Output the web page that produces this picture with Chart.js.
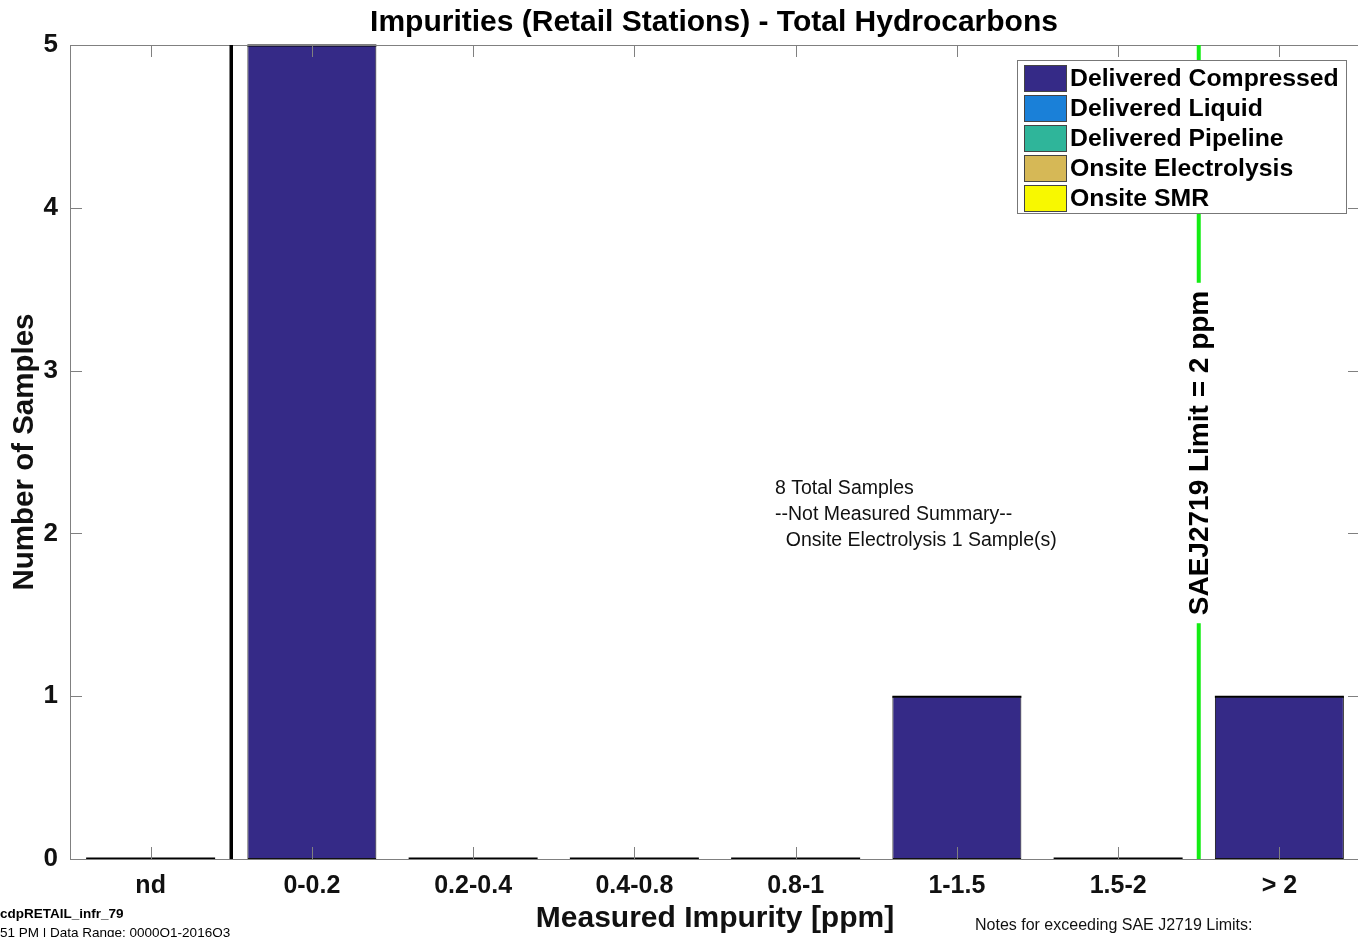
<!DOCTYPE html>
<html>
<head>
<meta charset="utf-8">
<script src="https://cdn.jsdelivr.net/npm/chart.js@4.4.1/dist/chart.umd.min.js"></script>
<style>
  html, body { margin: 0; padding: 0; background: #fff; overflow: hidden; width: 1358px; height: 937px; }
  canvas { display: block; }
</style>
</head>
<body>
<canvas id="c" width="1362" height="937"></canvas>
<script>
// ---- data ----
const categories = ['nd', '0-0.2', '0.2-0.4', '0.4-0.8', '0.8-1', '1-1.5', '1.5-2', '> 2'];
const deliveredCompressed = [0, 5, 0, 0, 0, 1, 0, 1];
const deliveredLiquid     = [0, 0, 0, 0, 0, 0, 0, 0];
const deliveredPipeline   = [0, 0, 0, 0, 0, 0, 0, 0];
const onsiteElectrolysis  = [0, 0, 0, 0, 0, 0, 0, 0];
const onsiteSMR           = [0, 0, 0, 0, 0, 0, 0, 0];
const seriesNames = ['Delivered Compressed', 'Delivered Liquid', 'Delivered Pipeline', 'Onsite Electrolysis', 'Onsite SMR'];
const seriesColors = ['#352a87', '#1a80d8', '#2fb59a', '#d6b856', '#f8f800'];
const yTicks = [0, 1, 2, 3, 4, 5];
const ndBoundary = 0.5;      // black line between "nd" and "0-0.2" (category index)
const limitPosition = 6.5;   // SAE J2719 limit = 2 ppm (between "1.5-2" and "> 2")
const limitLabel = 'SAEJ2719 Limit = 2 ppm';
const summaryLines = ['8 Total Samples', '--Not Measured Summary--', '  Onsite Electrolysis 1 Sample(s)'];
const titleText = 'Impurities (Retail Stations) - Total Hydrocarbons';
const footerLeft1 = 'cdpRETAIL_infr_79';
const footerLeft2 = '51 PM | Data Range: 0000Q1-2016Q3';
const footerRight = 'Notes for exceeding SAE J2719 Limits:';

const FONT = '"Liberation Sans", Arial, Helvetica, sans-serif';
const seriesData = [deliveredCompressed, deliveredLiquid, deliveredPipeline, onsiteElectrolysis, onsiteSMR];

const decorPlugin = {
  id: 'decor',
  afterDatasetsDraw(chart) {
    const ctx = chart.ctx;
    const ca = chart.chartArea;
    const xs = chart.scales.x, ys = chart.scales.y;
    ctx.save();
    // zero-height bars drawn as black lines at the base
    const meta0 = chart.getDatasetMeta(0);
    meta0.data.forEach((bar, i) => {
      const total = seriesData.reduce((s, arr) => s + arr[i], 0);
      if (total === 0) {
        ctx.strokeStyle = '#000';
        ctx.lineWidth = 2;
        ctx.beginPath();
        ctx.moveTo(bar.x - bar.width / 2, ys.getPixelForValue(0) - 0.5);
        ctx.lineTo(bar.x + bar.width / 2, ys.getPixelForValue(0) - 0.5);
        ctx.stroke();
      } else {
        // dark top edge as in the reference
        ctx.strokeStyle = '#000';
        ctx.lineWidth = 2;
        ctx.beginPath();
        ctx.moveTo(bar.x - bar.width / 2, ys.getPixelForValue(total) + 0.5);
        ctx.lineTo(bar.x + bar.width / 2, ys.getPixelForValue(total) + 0.5);
        ctx.stroke();
      }
    });
    // axes box
    ctx.strokeStyle = '#808080';
    ctx.lineWidth = 1;
    ctx.strokeRect(Math.round(ca.left) + 0.5, Math.round(ca.top) + 0.5, ca.right - ca.left, ca.bottom - ca.top);
    // inward ticks
    ctx.beginPath();
    yTicks.forEach(v => {
      const y = Math.round(ys.getPixelForValue(v)) + 0.5;
      ctx.moveTo(ca.left, y); ctx.lineTo(ca.left + 12, y);
      ctx.moveTo(ca.right, y); ctx.lineTo(ca.right - 12, y);
    });
    categories.forEach((c, i) => {
      const x = Math.round(xs.getPixelForValue(i)) + 0.5;
      ctx.moveTo(x, ca.bottom); ctx.lineTo(x, ca.bottom - 12);
      ctx.moveTo(x, ca.top); ctx.lineTo(x, ca.top + 12);
    });
    ctx.stroke();
    // nd boundary black line
    const xb = xs.getPixelForValue(ndBoundary);
    ctx.strokeStyle = '#000';
    ctx.lineWidth = 3.5;
    ctx.beginPath(); ctx.moveTo(xb, ca.top); ctx.lineTo(xb, ca.bottom); ctx.stroke();
    // limit green line
    const xl = xs.getPixelForValue(limitPosition);
    ctx.strokeStyle = '#14ec14';
    ctx.lineWidth = 4;
    ctx.beginPath(); ctx.moveTo(xl, ca.top); ctx.lineTo(xl, ca.bottom); ctx.stroke();
    // limit label
    ctx.save();
    ctx.translate(xl, 453);
    ctx.rotate(-Math.PI / 2);
    ctx.font = 'bold 28px ' + FONT;
    const lw = ctx.measureText(limitLabel).width;
    ctx.fillStyle = '#fff';
    ctx.fillRect(-lw / 2 - 8, -15, lw + 16, 30);
    ctx.fillStyle = '#000';
    ctx.textAlign = 'center';
    ctx.textBaseline = 'middle';
    ctx.fillText(limitLabel, 0, 2);
    ctx.restore();
    // summary text
    ctx.font = '19.5px ' + FONT;
    ctx.fillStyle = '#111';
    ctx.textAlign = 'left';
    ctx.textBaseline = 'middle';
    summaryLines.forEach((t, i) => ctx.fillText(t, 775, 489 + i * 26));
    // legend
    const lx = 1017, ly = 60, lwid = 329, lh = 153;
    ctx.fillStyle = '#fff';
    ctx.fillRect(lx, ly, lwid, lh);
    ctx.strokeStyle = '#777';
    ctx.lineWidth = 1;
    ctx.strokeRect(lx + 0.5, ly + 0.5, lwid, lh);
    ctx.font = 'bold 24.8px ' + FONT;
    chart.data.datasets.forEach((ds, i) => {
      const cy = 78 + i * 30;
      ctx.fillStyle = ds.backgroundColor;
      ctx.fillRect(1024, cy - 13, 42, 26);
      ctx.strokeStyle = '#444';
      ctx.strokeRect(1024.5, cy - 12.5, 42, 26);
      ctx.fillStyle = '#000';
      ctx.textAlign = 'left';
      ctx.textBaseline = 'middle';
      ctx.fillText(ds.label, 1070, cy + 1);
    });
    ctx.restore();
  },
  afterDraw(chart) {
    const ctx = chart.ctx;
    ctx.save();
    ctx.fillStyle = '#000';
    ctx.textBaseline = 'middle';
    ctx.textAlign = 'center';
    ctx.font = 'bold 30px ' + FONT;
    ctx.fillText(titleText, 714, 23);
    ctx.textAlign = 'left';
    ctx.font = 'bold 13.5px ' + FONT;
    ctx.fillText(footerLeft1, 0, 914);
    ctx.font = '13.5px ' + FONT;
    ctx.fillText(footerLeft2, 0, 933);
    ctx.font = '16px ' + FONT;
    ctx.fillStyle = '#111';
    ctx.fillText(footerRight, 975, 926);
    ctx.restore();
  }
};

new Chart(document.getElementById('c'), {
  type: 'bar',
  data: {
    labels: categories,
    datasets: seriesNames.map((name, i) => ({
      label: name,
      data: seriesData[i],
      backgroundColor: seriesColors[i],
      borderColor: '#111',
      borderWidth: 1,
      borderSkipped: false,
      categoryPercentage: 1.0,
      barPercentage: 0.8
    }))
  },
  options: {
    responsive: false,
    animation: false,
    devicePixelRatio: 1,
    layout: { padding: { top: 45, right: 2, left: 0, bottom: 0 } },
    plugins: { legend: { display: false }, title: { display: false }, tooltip: { enabled: false } },
    scales: {
      x: {
        stacked: true,
        grid: { display: false, drawTicks: false },
        border: { display: false },
        ticks: { color: '#111', font: { family: FONT, size: 25, weight: 'bold' }, padding: 12, maxRotation: 0, autoSkip: false },
        title: { display: true, text: 'Measured Impurity [ppm]', color: '#111', font: { family: FONT, size: 30, weight: 'bold' }, padding: { top: 0, bottom: 0 } },
        afterFit(scale) { scale.height = 78; }
      },
      y: {
        stacked: true,
        min: 0, max: 5,
        afterBuildTicks(scale) { scale.ticks = yTicks.map(v => ({ value: v })); },
        grid: { display: false, drawTicks: false },
        border: { display: false },
        ticks: { color: '#111', font: { family: FONT, size: 26, weight: 'bold' }, padding: 12 },
        title: { display: true, text: 'Number of Samples', color: '#111', font: { family: FONT, size: 29.5, weight: 'bold' }, padding: { top: 7, bottom: 0 } },
        afterFit(scale) { scale.width = 70; }
      }
    }
  },
  plugins: [decorPlugin]
});
</script>
</body>
</html>
